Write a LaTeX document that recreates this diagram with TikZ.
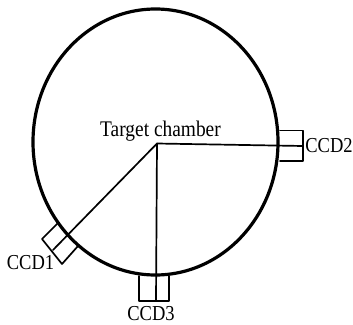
\documentclass[tikz,border=0pt]{standalone}
\usepackage{fontspec}
\setmainfont{Liberation Serif}
\begin{document}
\begin{tikzpicture}[x=1pt, y=-1pt, line width=1.7pt, line cap=round, line join=round,
    label text/.style={inner sep=0pt, anchor=base, yscale=1.15, transform shape, font=\fontsize{18.5}{22}\selectfont}]

  %% chamber wall
  \draw[line width=3.2pt] (155.5,142.0) ellipse (122.5 and 133.0);

  %% named points
  \coordinate (centre) at (157.0,143.5);
  \coordinate (ccd1end) at (53.0,250.0);
  \coordinate (ccd2end) at (303.0,146.0);
  \coordinate (ccd3end) at (156.0,301.0);

  %% beam lines
  \draw (ccd1end) -- (centre) -- (ccd2end);
  \draw (centre) -- (ccd3end);

  %% camera boxes
  \draw (58.0,223.0) -- (42.0,239.0) -- (62.0,264.0) -- (78.0,246.0);
  \draw (280.0,130.5) -- (303.0,130.5) -- (303.0,161.0) -- (280.0,161.0);
  \draw (139.0,276.0) -- (139.0,301.0) -- (169.0,301.0) -- (169.0,276.0);

  %% labels
  \node[label text, font=\fontsize{19.4}{22}\selectfont] (chamberlabel) at (160.5,136.0) {Target chamber};
  \node[label text] (ccdonelabel) at (30.5,269.5) {CCD1};
  \node[label text] (ccdtwolabel) at (329.0,152.5) {CCD2};
  \node[label text] (ccdthreelabel) at (151.0,320.0) {CCD3};

  \pgfresetboundingbox
  \path[use as bounding box] (0,0) rectangle (353,324);
\end{tikzpicture}
\end{document}
